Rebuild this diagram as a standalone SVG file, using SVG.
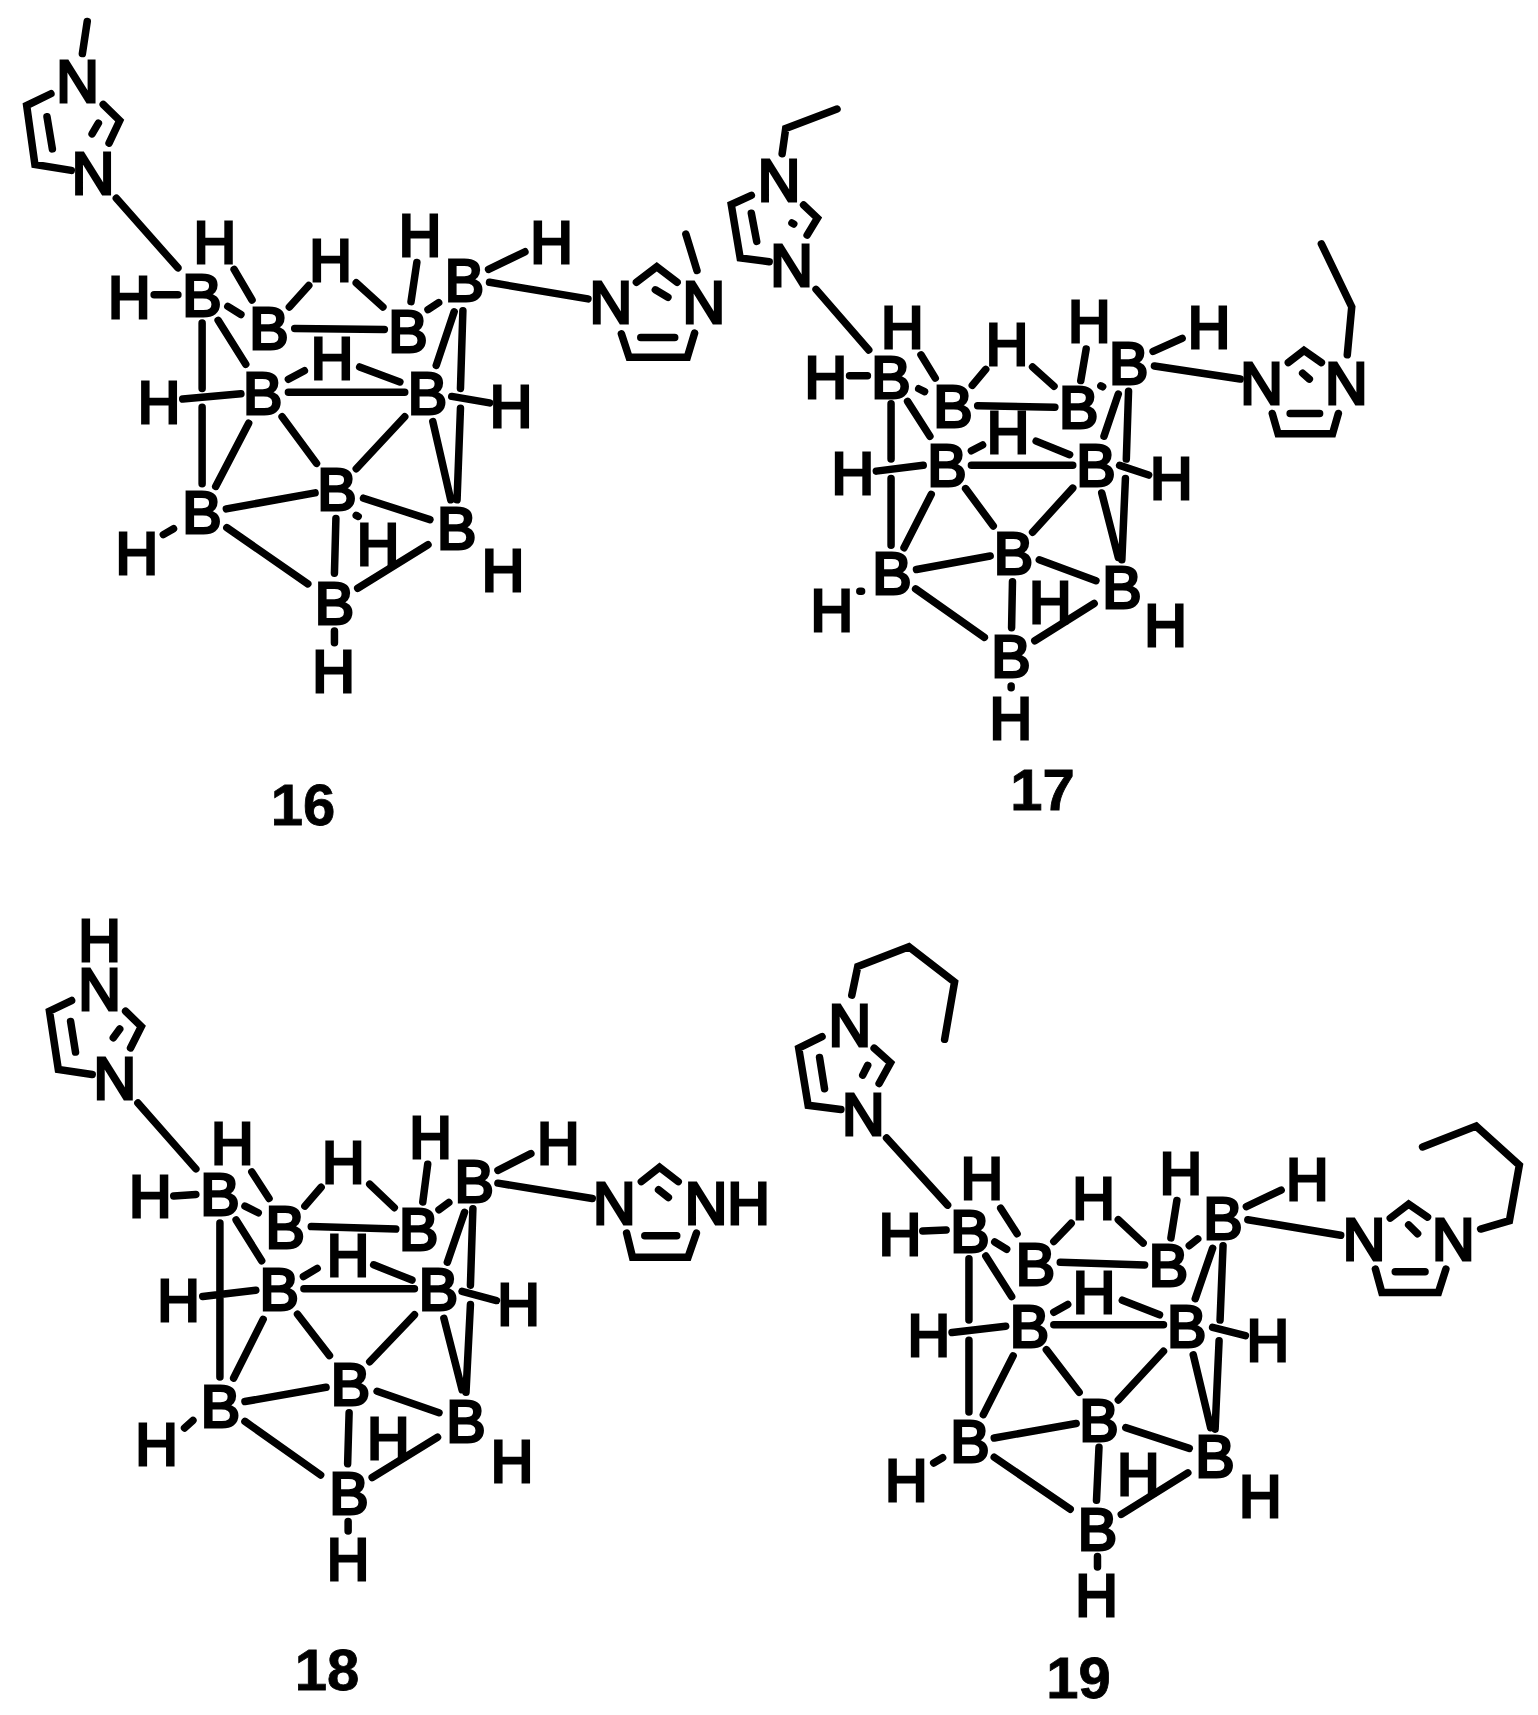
<svg xmlns="http://www.w3.org/2000/svg" width="1538" height="1715" viewBox="0 0 1538 1715">
<style>
text{font-family:"Liberation Sans",Arial,sans-serif;fill:#000;text-anchor:middle}
.a{font-size:59px;stroke:#000;stroke-width:3px}
.n{font-size:58px;font-weight:700;stroke:#000;stroke-width:.8px}
.b{fill:none;stroke:#000;stroke-width:7.5px;stroke-linecap:round;stroke-linejoin:miter;vector-effect:non-scaling-stroke}
</style>
<rect width="1538" height="1715" fill="#fff"/>
<g id="compound-16">
<path class="b" transform="scale(.4847 .5357)" d="M180 40L170 100M105 175L55 197L72 307L147 318M97 218L108 278M213 195L247 225L225 267M203 230L190 250M240 370L367 500M318 550L367 550M483 503L520 560M470 572L497 587M450 598L507 680M597 573L637 533M735 528L790 573M608 613L793 615M860 490L848 563M883 578L905 565M1008 503L1083 470M1010 527L1213 558M1313 527L1355 498L1397 527M1352 541L1378 555M1282 623L1298 667L1418 667L1433 622M1322 630L1392 630M1415 437L1438 505M937 582L900 682M955 580L950 725M595 708L628 692M742 685L825 713M595 732L835 732M377 745L497 735M417 603L417 725M417 760L417 903M932 740L1010 752M950 762L943 933M893 787L930 933M513 790L445 908M582 778L653 865M835 778L735 875M467 950L650 920M750 930L887 970M735 962L739 964M693 968L690 1070M738 1098L883 1017M468 985L635 1090M337 998L358 987M690 1178L690 1200"/>
<g class="a">
<text x="77.6" y="101.8">N</text><text x="93" y="194">N</text><text x="214.7" y="262.5">H</text><text x="129.4" y="317.6">H</text><text x="202" y="316">B</text><text x="269" y="349">B</text><text x="330.6" y="281">H</text><text x="408" y="352">B</text><text x="420" y="255.5">H</text><text x="464.4" y="301">B</text><text x="551.6" y="262.5">H</text><text x="610.8" y="323">N</text><text x="703.8" y="323">N</text><text x="262.7" y="414">B</text><text x="427.5" y="414">B</text><text x="332" y="378.7">H</text><text x="159" y="423">H</text><text x="511" y="427.4">H</text><text x="202" y="533">B</text><text x="337" y="510">B</text><text x="456.6" y="549">B</text><text x="378" y="565">H</text><text x="334.5" y="624">B</text><text x="136.7" y="574">H</text><text x="503" y="590.8">H</text><text x="333.5" y="692">H</text>
</g>
<text class="n" x="303" y="825">16</text>
</g>
<g id="compound-17">
<path class="b" transform="translate(700 80) scale(.4464 .4847)" d="M307 60L192 100L184 152M115 238L70 257L90 367L155 375M115 275L127 333M232 258L263 285L240 320M206 295L210 297M260 432L378 557M335 610L375 610M495 567L527 615M490 637L503 643M465 663L515 735M610 630L640 597M745 592L793 632M622 672L795 675M865 555L853 620M898 631L902 633M1015 560L1080 533M1018 590L1210 617M1318 583L1353 558L1392 583M1350 605L1365 617M1282 688L1295 730L1417 730L1430 688M1322 688L1388 688M1450 567L1460 468L1392 338M937 648L905 735M960 642L955 782M608 765L633 753M753 745L828 773M608 795L835 795M395 807L500 795M428 668L428 782M428 822L428 960M940 795L1005 815M953 822L945 990M900 852L937 985M518 855L457 965M595 843L657 920M835 842L745 933M485 1010L650 982M760 990L887 1033M700 1035L698 1130M750 1157L883 1080M483 1050L637 1150M358 1055L362 1055M697 1250L697 1254"/>
<g class="a">
<text x="779" y="201.2">N</text><text x="791.5" y="286">N</text><text x="902.2" y="347.6">H</text><text x="825.9" y="397.5">H</text><text x="891" y="397.5">B</text><text x="953" y="426.6">B</text><text x="1007" y="365">H</text><text x="1078.6" y="427.5">B</text><text x="1089.3" y="341.8">H</text><text x="1128.6" y="384">B</text><text x="1209" y="348">H</text><text x="1261.6" y="403.8">N</text><text x="1346.4" y="403.8">N</text><text x="946.9" y="486.2">B</text><text x="1096" y="486.2">B</text><text x="1008" y="453.2">H</text><text x="852.7" y="494.4">H</text><text x="1171.4" y="499.3">H</text><text x="892" y="593.8">B</text><text x="1013.4" y="574.4">B</text><text x="1121.9" y="608.4">B</text><text x="1050.4" y="623">H</text><text x="1011" y="677">B</text><text x="831.7" y="631">H</text><text x="1165.6" y="645.7">H</text><text x="1010.7" y="739">H</text>
</g>
<text class="n" x="1042.4" y="809.5">17</text>
</g>
<g id="compound-18">
<path class="b" transform="translate(20 900) scale(.4912 .5102)" d="M105 197L60 218L78 332L147 342M103 238L113 298M215 218L247 248L225 290M203 253L190 270M240 398L358 527M313 580L358 577M472 533L507 585M458 600L485 613M440 627L492 707M580 600L613 563M712 557L762 603M593 640L765 645M830 518L820 592M853 607L873 593M973 530L1040 497M973 555L1165 585M1265 552L1302 524L1340 552M1300 568L1320 583M1235 653L1247 700L1360 700L1377 653M1272 658L1337 658M905 612L870 710M922 605L917 755M577 738L605 722M720 715L798 745M578 762L803 762M372 777L480 765M407 633L407 935M900 767L970 785M917 793L908 965M863 820L900 960M495 822L435 937M565 812L630 893M803 813L712 905M458 983L623 955M727 963L853 1005M670 1005L667 1105M717 1132L850 1053M458 1022L612 1127M335 1035L352 1020M668 1218L668 1237"/>
<g class="a">
<text x="99.6" y="961.2">H</text><text x="99.6" y="1009.7">N</text><text x="114.8" y="1099">N</text><text x="232.2" y="1163.8">H</text><text x="150.2" y="1217.3">H</text><text x="219.9" y="1215.3">B</text><text x="285.2" y="1248">B</text><text x="343.2" y="1183.2">H</text><text x="418.8" y="1249.5">B</text><text x="430.6" y="1157.7">H</text><text x="474.3" y="1202">B</text><text x="558.3" y="1163.8">H</text><text x="614.3" y="1224">N</text><text x="727.3" y="1224">NH</text><text x="279.3" y="1309.7">B</text><text x="438.5" y="1309.7">B</text><text x="348" y="1276">H</text><text x="178.6" y="1320.9">H</text><text x="518.5" y="1325">H</text><text x="220.4" y="1426.5">B</text><text x="350.5" y="1405">B</text><text x="466" y="1441.8">B</text><text x="388.4" y="1458.7">H</text><text x="349" y="1513.8">B</text><text x="156.5" y="1465.3">H</text><text x="512" y="1481.6">H</text><text x="348" y="1579.6">H</text>
</g>
<text class="n" x="327" y="1689.8">18</text>
</g>
<g id="compound-19">
<path class="b" transform="translate(760 900) scale(.4963 .5198)" d="M185 183L197 128L300 90L392 158L372 268M125 263L78 285L97 395L163 403M120 303L130 363M230 285L263 313L240 353M217 318L207 337M255 458L378 587M328 637L375 635M485 593L518 642M473 658L497 672M455 685L507 763M592 657L627 622M722 615L772 660M605 697L775 702M840 578L828 650M865 665L882 652M980 590L1050 558M983 615L1170 645M1270 612L1307 585L1345 610M1307 625L1325 642M1240 710L1253 755L1367 755L1382 710M1280 715L1340 715M1452 633L1510 617L1530 510L1443 435L1335 475M912 670L877 767M933 665L927 808M592 793L620 778M730 770L805 798M592 817L813 817M387 832L495 820M421 690L421 808M421 847L421 985M912 822L978 838M925 848L917 1018M873 875L908 1015M510 877L450 990M577 865L643 947M813 868L722 962M472 1035L637 1007M737 1015L865 1055M683 1053L678 1155M728 1182L862 1102M472 1072L625 1172M350 1083L368 1073M680 1263L680 1283"/>
<g class="a">
<text x="849.8" y="1045.5">N</text><text x="863.2" y="1134.9">N</text><text x="981.8" y="1198.9">H</text><text x="900" y="1254.5">H</text><text x="969.9" y="1252.4">B</text><text x="1035.4" y="1284.6">B</text><text x="1093.5" y="1218.6">H</text><text x="1168.4" y="1286.2">B</text><text x="1180.8" y="1193.7">H</text><text x="1223" y="1238.9">B</text><text x="1307.4" y="1199.9">H</text><text x="1364" y="1259.7">N</text><text x="1453.3" y="1259.7">N</text><text x="1029.5" y="1347">B</text><text x="1186.8" y="1347">B</text><text x="1094" y="1313.2">H</text><text x="928.7" y="1355.8">H</text><text x="1267.7" y="1361">H</text><text x="969.9" y="1462.4">B</text><text x="1099" y="1440.5">B</text><text x="1215" y="1477">B</text><text x="1138.2" y="1495">H</text><text x="1097.5" y="1549.7">B</text><text x="906.4" y="1501.3">H</text><text x="1260.2" y="1517">H</text><text x="1096.5" y="1615.7">H</text>
</g>
<text class="n" x="1078.6" y="1697.8">19</text>
</g>
</svg>
